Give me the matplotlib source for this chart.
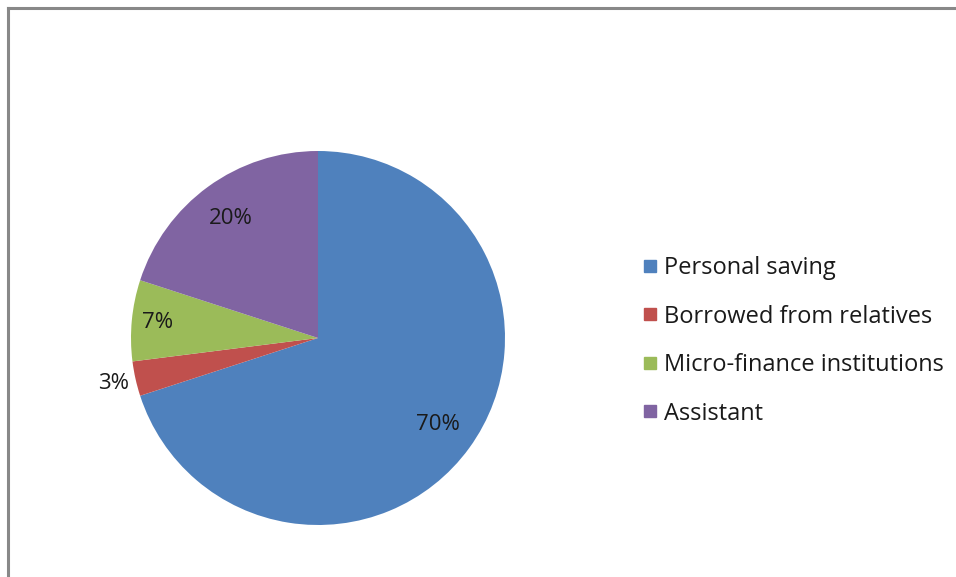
import numpy as np
import matplotlib.pyplot as plt
from matplotlib.lines import Line2D

labels = ['Personal saving', 'Borrowed from relatives', 'Micro-finance institutions', 'Assistant']
shares = [70, 3, 7, 20]
colors = ['#4F81BD', '#C0504D', '#9BBB59', '#8064A2']
# how far from the centre each percent label sits (fraction of radius)
label_dist = [0.79, 1.12, 0.86, 0.79]

W, H = 956, 577
fig = plt.figure(figsize=(W / 100, H / 100), dpi=100)
plt.rcParams['font.family'] = ['Open Sans', 'DejaVu Sans']

cx, cy, r = 318, 338, 187
ax = fig.add_axes([(cx - r) / W, (H - cy - r) / H, 2 * r / W, 2 * r / H])
wedges, texts = ax.pie(shares, colors=colors, startangle=90, counterclock=False,
                       wedgeprops={'linewidth': 0})
for w, d, s in zip(wedges, label_dist, shares):
    ang = np.deg2rad((w.theta1 + w.theta2) / 2)
    ax.text(d * np.cos(ang), d * np.sin(ang), f'{s}%', ha='center', va='center',
            fontsize=16, color='#1a1a1a')
ax.set_xlim(-1, 1)
ax.set_ylim(-1, 1)
ax.set_aspect('equal')
ax.axis('off')

handles = [Line2D([0], [0], marker='s', linestyle='', markersize=9,
                  markerfacecolor=c, markeredgecolor=c) for c in colors]
fig.legend(handles, labels, loc='upper left', bbox_to_anchor=(643 / W, 1 - 256 / H),
           frameon=False, fontsize=17, labelspacing=1.04, handlelength=0.6,
           handletextpad=0.3, borderpad=0, borderaxespad=0, labelcolor='#1a1a1a')

# frame lines along top and left edge
fig.add_artist(Line2D([8 / W, 1], [1 - 8 / H, 1 - 8 / H], color='#888888', linewidth=2.2))
fig.add_artist(Line2D([8 / W, 8 / W], [0, 1 - 8 / H], color='#888888', linewidth=2.2))

fig.savefig('out.png', dpi=100)
